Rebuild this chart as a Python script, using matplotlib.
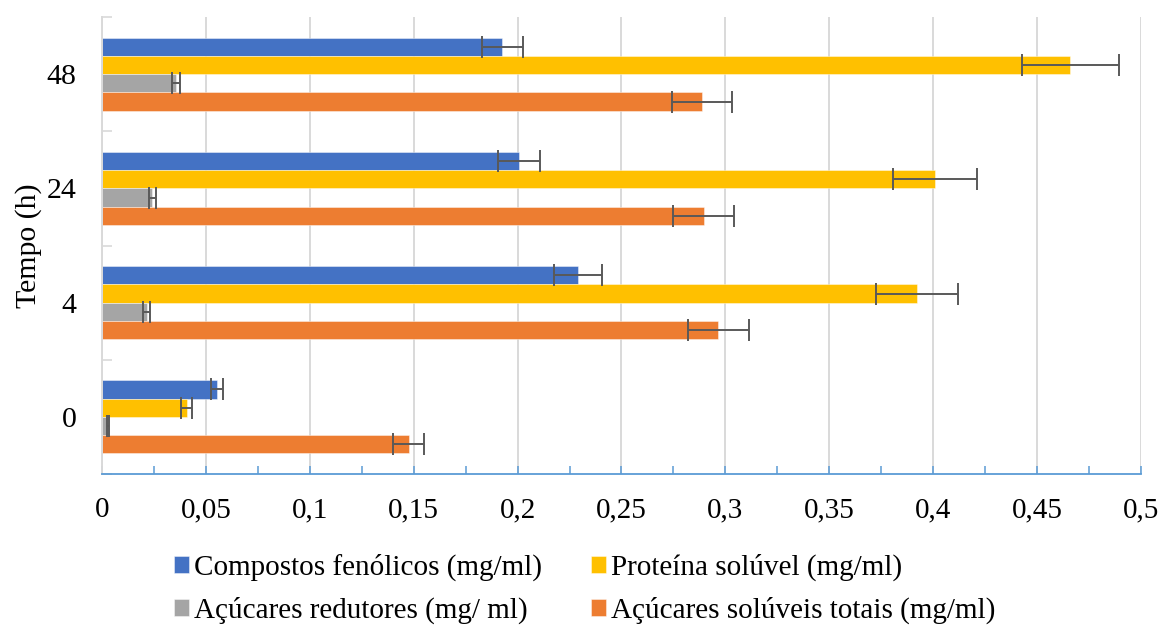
import matplotlib
matplotlib.use("Agg")
import matplotlib.pyplot as plt
import numpy as np

# Sampling times (h), bottom to top
tempos = ["0", "4", "24", "48"]

# Means and standard deviations (mg/ml)
fenolicos = [0.0553, 0.2289, 0.2007, 0.1926]
fenolicos_err = [0.0030, 0.0115, 0.0101, 0.0098]

proteina = [0.0407, 0.3924, 0.4010, 0.4660]
proteina_err = [0.0025, 0.0197, 0.0201, 0.0234]

redutores = [0.0030, 0.0215, 0.0242, 0.0356]
redutores_err = [0.0005, 0.0016, 0.0016, 0.0019]

soluveis = [0.1476, 0.2966, 0.2895, 0.2889]
soluveis_err = [0.0075, 0.0147, 0.0146, 0.0145]

series_labels = [
    "Compostos fenólicos (mg/ml)",
    "Proteína solúvel (mg/ml)",
    "Açúcares redutores (mg/ ml)",
    "Açúcares solúveis totais (mg/ml)",
]
series_colors = ["#4472C4", "#FFC000", "#A5A5A5", "#ED7D31"]

x_ticks = [0, 0.05, 0.1, 0.15, 0.2, 0.25, 0.3, 0.35, 0.4, 0.45, 0.5]
x_tick_labels = ["0", "0,05", "0,1", "0,15", "0,2", "0,25", "0,3",
                 "0,35", "0,4", "0,45", "0,5"]

plt.rcParams["font.family"] = ["Liberation Serif", "DejaVu Serif"]

fig = plt.figure(figsize=(11.62, 6.28), dpi=100)
ax = fig.add_axes([0.0878, 0.2452, 0.8941, 0.7277])

y = np.arange(len(tempos))
h = 0.16
offsets = [1.5 * h, 0.5 * h, -0.5 * h, -1.5 * h]
values = [fenolicos, proteina, redutores, soluveis]
errors = [fenolicos_err, proteina_err, redutores_err, soluveis_err]

handles = []
for vals, errs, off, col, lab in zip(values, errors, offsets,
                                     series_colors, series_labels):
    b = ax.barh(y + off, vals, height=h, color=col, label=lab,
                edgecolor=(1, 1, 1, 0.5), linewidth=0.6, zorder=2)
    ax.errorbar(vals, y + off, xerr=errs, fmt="none", ecolor="#595959",
                elinewidth=1.4, capsize=8, capthick=1.4, zorder=3)
    handles.append(b)

ax.set_xlim(0, 0.5)
ax.set_ylim(-0.5, len(tempos) - 0.5)

ax.set_xticks(x_ticks)
ax.set_xticklabels(x_tick_labels, fontsize=21)
ax.set_xticks(np.arange(0, 0.5001, 0.025), minor=True)
ax.tick_params(axis="x", which="both", direction="in", length=6,
               width=1.1, color="#5B9BD5", pad=16.5)

ax.set_yticks(y)
ax.set_yticklabels(tempos, fontsize=21.5)
ax.set_yticks(np.arange(-0.5, len(tempos), 1.0), minor=True)
ax.tick_params(axis="y", which="major", length=0, pad=18.5)
ax.tick_params(axis="y", which="minor", direction="in", length=7,
               width=1.2, color="#D9D9D9")

ax.grid(axis="x", which="major", color="#D9D9D9", linewidth=1.4)
ax.set_axisbelow(True)

for side in ("top", "right"):
    ax.spines[side].set_visible(False)
ax.spines["left"].set_color("#D9D9D9")
ax.spines["left"].set_linewidth(1.4)
ax.spines["bottom"].set_color("#5B9BD5")
ax.spines["bottom"].set_linewidth(1.3)

ax.set_ylabel("Tempo (h)", fontsize=21.5, va="center")
ax.yaxis.set_label_coords(-0.071, 0.5)

# Two-column legend: row 1 fenólicos / proteína, row 2 redutores / solúveis
order = [0, 2, 1, 3]
fig.legend([handles[i] for i in order], [series_labels[i] for i in order],
           ncol=2, loc="center", bbox_to_anchor=(0.5031, 0.0621),
           frameon=False, fontsize=21, handlelength=0.52, handleheight=0.52,
           handletextpad=0.17, columnspacing=1.68, labelspacing=0.53,
           borderpad=0, borderaxespad=0)

fig.savefig("out.png", dpi=100)
